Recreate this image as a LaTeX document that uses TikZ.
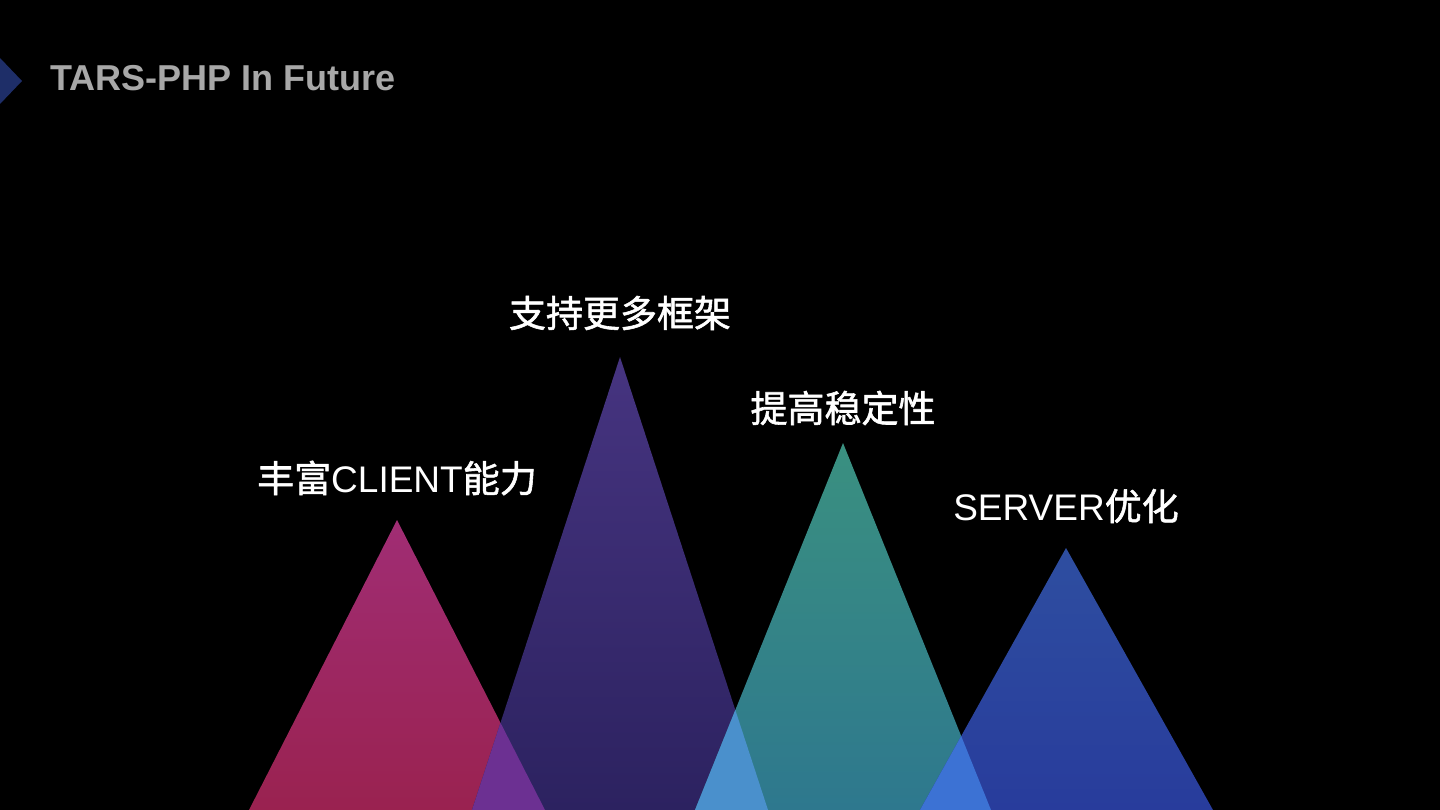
\documentclass[tikz,border=0pt]{standalone}
\usepackage{fontspec}
\setmainfont{Liberation Sans}
\newfontfamily\cjk[FakeBold=1.5]{Noto Sans CJK SC}
\newcommand{\zh}[1]{{\cjk #1}}
\begin{document}
\begin{tikzpicture}[x=1pt,y=-1pt,
  lbl/.style={text=white,inner sep=0pt,font=\fontsize{37}{42}\selectfont},
  ttl/.style={text={rgb,255:red,168;green,168;blue,168},inner sep=0pt,anchor=base west,font=\bfseries\fontsize{36}{42}\selectfont}]
\definecolor{pinkT}{RGB}{160,45,116}
\definecolor{pinkB}{RGB}{154,34,80}
\definecolor{purT}{RGB}{70,52,128}
\definecolor{purB}{RGB}{44,34,96}
\definecolor{tealT}{RGB}{58,144,128}
\definecolor{tealB}{RGB}{46,120,142}
\definecolor{bluT}{RGB}{46,78,160}
\definecolor{bluB}{RGB}{40,60,156}
\definecolor{ovA}{RGB}{108,48,146}
\definecolor{ovB}{RGB}{74,144,204}
\definecolor{ovC}{RGB}{60,114,212}
\definecolor{chev}{RGB}{30,46,104}
\fill[black] (0,0) rectangle (1440,810);
\useasboundingbox (0,0) rectangle (1440,810);
% chevron
\fill[chev] (0,58) -- (22,81) -- (0,104) -- cycle;
\node[ttl] (title) at (50,91) {TARS-PHP In Future};
% triangle corners
\coordinate (p1) at (397,520); \coordinate (l1) at (249,810); \coordinate (r1) at (545,810);
\coordinate (p2) at (620,357); \coordinate (l2) at (472,810); \coordinate (r2) at (768,810);
\coordinate (p3) at (843,443); \coordinate (l3) at (695,810); \coordinate (r3) at (991,810);
\coordinate (p4) at (1066,548); \coordinate (l4) at (920,810); \coordinate (r4) at (1213,810);
\shade[top color=pinkT,bottom color=pinkB] (p1) -- (r1) -- (l1) -- cycle;
\shade[top color=purT,bottom color=purB] (p2) -- (r2) -- (l2) -- cycle;
\shade[top color=tealT,bottom color=tealB] (p3) -- (r3) -- (l3) -- cycle;
\shade[top color=bluT,bottom color=bluB] (p4) -- (r4) -- (l4) -- cycle;
\begin{scope}
\clip (p1) -- (r1) -- (l1) -- cycle;
\fill[ovA] (p2) -- (r2) -- (l2) -- cycle;
\end{scope}
\begin{scope}
\clip (p2) -- (r2) -- (l2) -- cycle;
\fill[ovB] (p3) -- (r3) -- (l3) -- cycle;
\end{scope}
\begin{scope}
\clip (p3) -- (r3) -- (l3) -- cycle;
\fill[ovC] (p4) -- (r4) -- (l4) -- cycle;
\end{scope}
\node[lbl] (t2) at (620,313) {\zh{支持更多框架}};
\node[lbl] (t3) at (843,408) {\zh{提高稳定性}};
\node[lbl] (t1) at (397,478) {\zh{丰富}CLIENT\zh{能力}};
\node[lbl] (t4) at (1066,506) {SERVER\zh{优化}};
\end{tikzpicture}
\end{document}
